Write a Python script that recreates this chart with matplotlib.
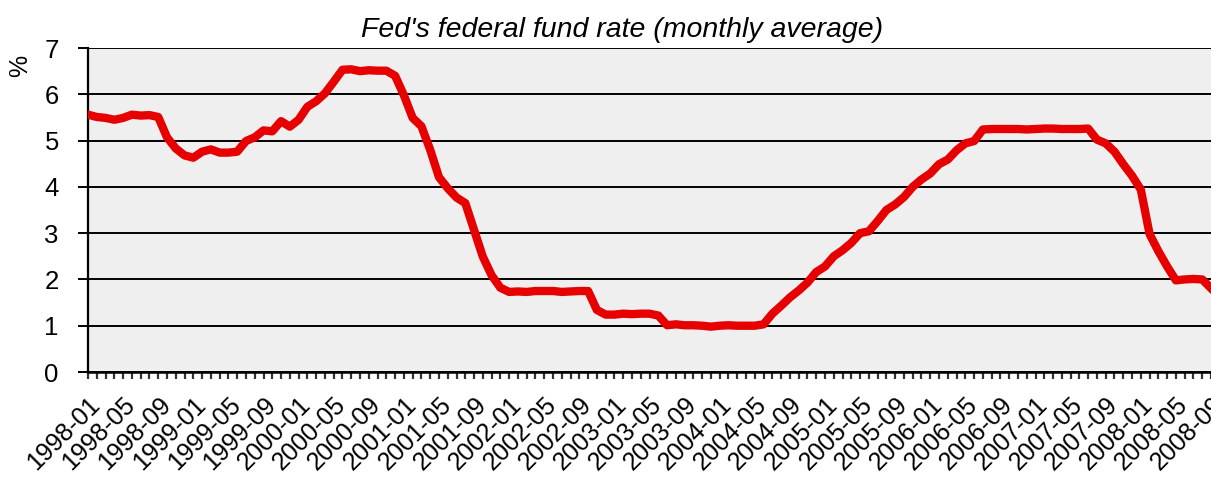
import numpy as np
import matplotlib.pyplot as plt

plt.rcParams['font.family'] = ['Liberation Sans', 'DejaVu Sans']

# monthly average, 1998-01 .. 2008-09
years = list(range(1998, 2009))
rate = [
    5.56, 5.51, 5.49, 5.45, 5.49, 5.56, 5.54, 5.55, 5.51, 5.07, 4.83, 4.68,   # 1998
    4.63, 4.76, 4.81, 4.74, 4.74, 4.76, 4.99, 5.07, 5.22, 5.20, 5.42, 5.30,   # 1999
    5.45, 5.73, 5.85, 6.02, 6.27, 6.53, 6.54, 6.50, 6.52, 6.51, 6.51, 6.40,   # 2000
    5.98, 5.49, 5.31, 4.80, 4.21, 3.97, 3.77, 3.65, 3.07, 2.49, 2.09, 1.82,   # 2001
    1.73, 1.74, 1.73, 1.75, 1.75, 1.75, 1.73, 1.74, 1.75, 1.75, 1.34, 1.24,   # 2002
    1.24, 1.26, 1.25, 1.26, 1.26, 1.22, 1.01, 1.03, 1.01, 1.01, 1.00, 0.98,   # 2003
    1.00, 1.01, 1.00, 1.00, 1.00, 1.03, 1.26, 1.43, 1.61, 1.76, 1.93, 2.16,   # 2004
    2.28, 2.50, 2.63, 2.79, 3.00, 3.04, 3.26, 3.50, 3.62, 3.78, 4.00, 4.16,   # 2005
    4.29, 4.49, 4.59, 4.79, 4.94, 4.99, 5.24, 5.25, 5.25, 5.25, 5.25, 5.24,   # 2006
    5.25, 5.26, 5.26, 5.25, 5.25, 5.25, 5.26, 5.02, 4.94, 4.76, 4.49, 4.24,   # 2007
    3.94, 2.98, 2.61, 2.28, 1.98, 2.00, 2.01, 2.00, 1.81,                     # 2008
]
months = ['%d-%02d' % (y, m) for y in years for m in range(1, 13)][:len(rate)]

fig = plt.figure(figsize=(12.11, 4.84), dpi=100)
ax = fig.add_axes([0.0727, 0.2314, 0.9273, 0.6694])
ax.set_facecolor('#efefef')

x = np.arange(len(rate))
ax.plot(x, rate, color='#e60000', lw=6, solid_joinstyle='round', zorder=3)

ax.set_xlim(0, len(rate) - 1)
ax.set_ylim(0, 7)
ax.set_yticks(range(0, 8))
ax.grid(axis='y', color='black', lw=1.4)
ax.set_axisbelow(True)

ax.set_xticks(x)
ax.set_xticklabels([m if i % 4 == 0 else '' for i, m in enumerate(months)],
                   rotation=45, ha='right', rotation_mode='anchor', fontsize=18)
ax.tick_params(axis='x', direction='out', length=5, width=1.6, color='#333333', pad=10)
ax.tick_params(axis='y', direction='out', length=7, width=1.4, labelsize=18.5, pad=14)

for s in ['top', 'right']:
    ax.spines[s].set_visible(False)
ax.spines['left'].set_linewidth(1.6)
ax.spines['bottom'].set_linewidth(1.8)

fig.text(0.514, 0.937, "Fed's federal fund rate (monthly average)", fontsize=20.5,
         style='italic', ha='center', va='center')
fig.text(0.0165, 0.864, '%', rotation=90, fontsize=18, ha='center', va='center')

fig.savefig('out.png', dpi=100)
